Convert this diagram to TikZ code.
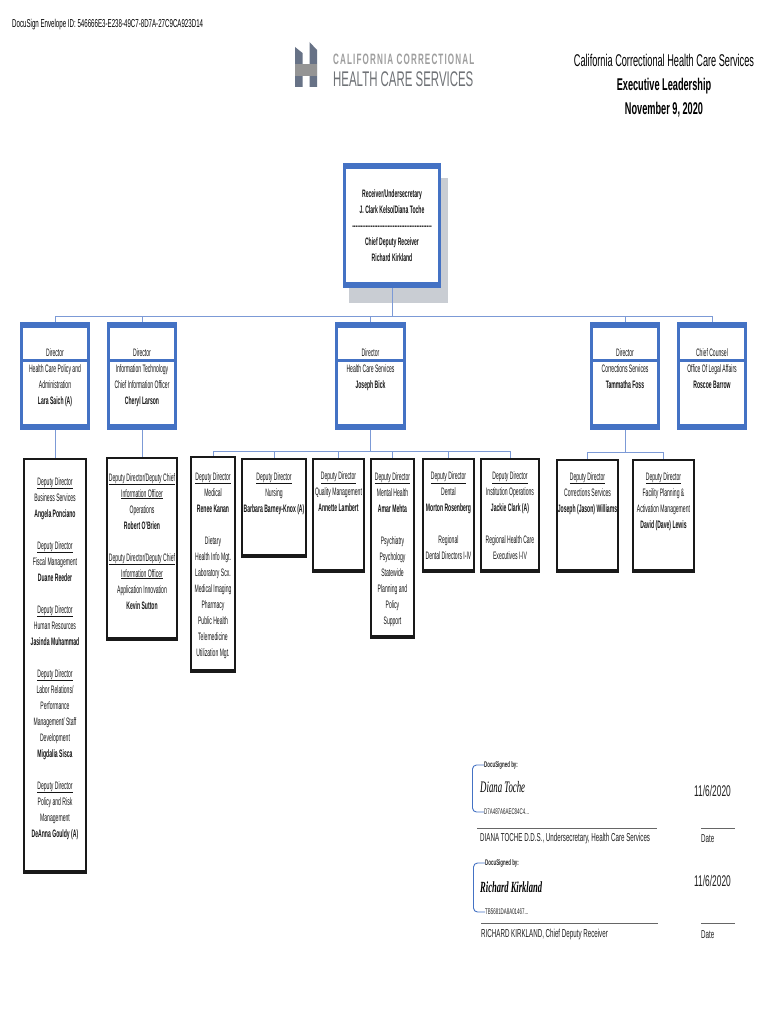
\documentclass[tikz,border=0pt]{standalone}
\usepackage{fontspec}
\usepackage{xcolor}
\setmainfont[FakeStretch=0.47]{Liberation Sans}
\newfontfamily\titlefont[FakeStretch=0.54]{Liberation Sans}
\newfontfamily\signfont[FakeStretch=0.55]{Liberation Serif}
\usetikzlibrary{positioning}
\definecolor{boxblue}{HTML}{4472C4}
\definecolor{linkblue}{HTML}{7C9AD6}
\definecolor{shadowgrey}{HTML}{C9CDD3}
\definecolor{logogrey}{HTML}{6F7276}
\newcommand{\ddr}{\underline{Deputy Director}}
\begin{document}
\begin{tikzpicture}[x=1pt,y=-1pt]
	\tikzset{
		txt/.style={anchor=north,align=center,inner sep=0pt,text=black!92,font=\fontsize{10.8}{16}\selectfont},
		dirbox/.style={draw=boxblue,line width=3pt,fill=white,inner sep=0pt,
			path picture={
				\fill[boxblue] (path picture bounding box.north west) rectangle ([yshift=-4.2pt]path picture bounding box.north east);
				\fill[boxblue] (path picture bounding box.south west) rectangle ([yshift=4.2pt]path picture bounding box.south east);}},
		depbox/.style={draw=black!90,line width=2pt,fill=white,inner sep=0pt,
			path picture={
				\fill[black!90] (path picture bounding box.south west) rectangle ([yshift=3pt]path picture bounding box.south east);}},
		link/.style={draw=linkblue,line width=0.9pt},
		rulerline/.style={draw=black!60,line width=0.7pt},
		bracket/.style={draw=boxblue,line width=0.9pt,rounded corners=4pt},
		small/.style={anchor=west,inner sep=0pt,text=black!85,font=\fontsize{8.2}{9}\titlefont},
		signline/.style={anchor=west,inner sep=0pt,text=black!88,font=\fontsize{11.5}{13}\titlefont},
		stamp/.style={anchor=west,inner sep=0pt,text=black!88,font=\fontsize{15.5}{17}\titlefont},
		signed/.style={anchor=west,inner sep=0pt,font=\fontsize{16}{18}\signfont\itshape}
	}
	\useasboundingbox (0,0) rectangle (770,1024);
	\fill[white] (0,0) rectangle (770,1024);

	% header
	\node[anchor=west,inner sep=0pt,font=\fontsize{11.4}{13}\titlefont] (envelope) at (12,25) {DocuSign Envelope ID: 546666E3-E238-49C7-8D7A-27C9CA923D14};

	% logo
	\fill[logogrey!80!boxblue] (295,47) -- (302.5,53) -- (302.5,87) -- (295,87) -- cycle;
	\fill[logogrey!80!boxblue] (309.5,42) -- (317,50) -- (317,87) -- (309.5,87) -- cycle;
	\fill[black!42] (295,64) rectangle (317,76);
	\node[anchor=west,inner sep=0pt,text=black!38,font=\fontsize{15}{17}\titlefont\bfseries] (logotop) at (333,59.5) {\addfontfeature{LetterSpace=7.5}CALIFORNIA CORRECTIONAL};
	\node[anchor=west,inner sep=0pt,text=logogrey,font=\fontsize{21.2}{24}\titlefont] (logobot) at (333,79) {HEALTH CARE SERVICES};

	% title
	\node[anchor=center,align=center,inner sep=0pt,font=\fontsize{17}{24}\titlefont] (title) at (664,86) {California Correctional Health Care Services\\\bfseries Executive Leadership\\\bfseries November 9, 2020};

	% receiver box
	\fill[shadowgrey] (349,178) rectangle (448,303);
	\node[dirbox,minimum width=95pt,minimum height=122pt] (receiver) at (392,225.5) {};
	\node[txt,font=\fontsize{10.8}{16}\selectfont\bfseries] (receivertxt) at (392,189) {Receiver/Undersecretary\\J. Clark Kelso/Diana Toche\\\foreach \i in {1,...,47}{-}\\Chief Deputy Receiver\\Richard Kirkland};

	% directors
	\node[dirbox,minimum width=67pt,minimum height=105pt] (dirPolicy) at (55,376) {};
	\node[dirbox,minimum width=67pt,minimum height=105pt] (dirTech) at (142,376) {};
	\node[dirbox,minimum width=68pt,minimum height=105pt] (dirHealth) at (370.5,376) {};
	\node[dirbox,minimum width=67pt,minimum height=105pt] (dirCorr) at (625,376) {};
	\node[dirbox,minimum width=67pt,minimum height=105pt] (dirLegal) at (712,376) {};
	\foreach \d in {dirPolicy,dirTech,dirHealth,dirCorr,dirLegal}
		\fill[boxblue] ([yshift=-36.5pt]\d.north west) rectangle ([yshift=-39.5pt]\d.north east);
	\node[txt] (dirPolicytxt) at (55,348.5) {Director\\Health Care Policy and\\Administration\\\bfseries Lara Saich (A)};
	\node[txt] (dirTechtxt) at (142,348.5) {Director\\Information Technology\\Chief Information Officer\\\bfseries Cheryl Larson};
	\node[txt] (dirHealthtxt) at (370.5,348.5) {Director\\Health Care Services\\\bfseries Joseph Bick};
	\node[txt] (dirCorrtxt) at (625,348.5) {Director\\Corrections Services\\\bfseries Tammatha Foss};
	\node[txt] (dirLegaltxt) at (712,348.5) {Chief Counsel\\Office Of Legal Affairs\\\bfseries Roscoe Barrow};

	% deputies
	\node[depbox,minimum width=62pt,minimum height=414pt] (depAdmin) at (55,666) {};
	\node[depbox,minimum width=70pt,minimum height=182pt] (depTech) at (142,549) {};
	\node[depbox,minimum width=44pt,minimum height=215pt] (depMedical) at (213,564.5) {};
	\node[depbox,minimum width=64pt,minimum height=98pt] (depNursing) at (274,508) {};
	\node[depbox,minimum width=51pt,minimum height=113pt] (depQuality) at (338.5,515.5) {};
	\node[depbox,minimum width=43pt,minimum height=179pt] (depMental) at (392.5,548.5) {};
	\node[depbox,minimum width=51pt,minimum height=113pt] (depDental) at (448.5,515.5) {};
	\node[depbox,minimum width=58pt,minimum height=113pt] (depInst) at (510,515.5) {};
	\node[depbox,minimum width=61pt,minimum height=112pt] (depCorr) at (587.5,516) {};
	\node[depbox,minimum width=61pt,minimum height=112pt] (depFacility) at (663.5,516) {};

	\node[txt] (depAdmintxt) at (55,477) {\ddr\\Business Services\\\textbf{Angela Ponciano}\\[16pt]\ddr\\Fiscal Management\\\textbf{Duane Reeder}\\[16pt]\ddr\\Human Resources\\\textbf{Jasinda Muhammad}\\[16pt]\ddr\\Labor Relations/\\Performance\\Management/ Staff\\Development\\\textbf{Migdalia Sisca}\\[16pt]\ddr\\Policy and Risk\\Management\\\textbf{DeAnna Gouldy (A)}};
	\node[txt] (depTechtxt) at (142,473) {\underline{Deputy Director/Deputy Chief}\\\underline{Information Officer}\\Operations\\\textbf{Robert O'Brien}\\[16pt]\underline{Deputy Director/Deputy Chief}\\\underline{Information Officer}\\Application Innovation\\\textbf{Kevin Sutton}};
	\node[txt] (depMedicaltxt) at (213,472) {\ddr\\Medical\\\textbf{Renee Kanan}\\[16pt]Dietary\\Health Info Mgt.\\Laboratory Scx.\\Medical Imaging\\Pharmacy\\Public Health\\Telemedicine\\Utilization Mgt.};
	\node[txt] (depNursingtxt) at (274,472) {\ddr\\Nursing\\\textbf{Barbara Barney-Knox (A)}};
	\node[txt] (depQualitytxt) at (338.5,471.5) {\ddr\\Quality Management\\\textbf{Annette Lambert}};
	\node[txt] (depMentaltxt) at (392.5,472) {\ddr\\Mental Health\\\textbf{Amar Mehta}\\[16pt]Psychiatry\\Psychology\\Statewide\\Planning and\\Policy\\Support};
	\node[txt] (depDentaltxt) at (448.5,471.5) {\ddr\\Dental\\\textbf{Morton Rosenberg}\\[16pt]Regional\\Dental Directors I-IV};
	\node[txt] (depInsttxt) at (510,471.5) {\ddr\\Institution Operations\\\textbf{Jackie Clark (A)}\\[16pt]Regional Health Care\\Executives I-IV};
	\node[txt] (depCorrtxt) at (587.5,472) {\ddr\\Corrections Services\\\textbf{Joseph (Jason) Williams}};
	\node[txt] (depFacilitytxt) at (663.5,472) {\ddr\\Facility Planning \&\\Activation Management\\\textbf{David (Dave) Lewis}};

	% connectors
	\coordinate (busTop) at (392,316);
	\coordinate (busHealth) at (370.5,451);
	\coordinate (busCorr) at (625,452);
	\draw[link] (receiver.south) -- (busTop);
	\foreach \d in {dirPolicy,dirTech,dirHealth,dirCorr,dirLegal}
		\draw[link] (busTop) -| (\d.north);
	\draw[link] (dirPolicy.south) -- (depAdmin.north);
	\draw[link] (dirTech.south) -- (depTech.north);
	\draw[link] (dirHealth.south) -- (busHealth);
	\foreach \d in {depMedical,depNursing,depQuality,depMental,depDental,depInst}
		\draw[link] (busHealth) -| (\d.north);
	\draw[link] (dirCorr.south) -- (busCorr);
	\foreach \d in {depCorr,depFacility}
		\draw[link] (busCorr) -| (\d.north);

	% first signature
	\node[small] (signedA) at (484,765) {\bfseries DocuSigned by:};
	\node[small] (idA) at (484,812) {D7A487A6AEC84C4...};
	\draw[bracket] (signedA.west) -| (472.5,812) -- (idA.west);
	\node[signed] (nameA) at (480,787) {Diana Toche};
	\node[stamp] (dateA) at (694,791) {11/6/2020};
	\coordinate (ruleA) at (477,828);
	\coordinate (ruleAend) at (657,828);
	\coordinate (dateruleA) at (701,828);
	\coordinate (dateruleAend) at (735,828);
	\draw[rulerline] (ruleA) -- (ruleAend);
	\draw[rulerline] (dateruleA) -- (dateruleAend);
	\node[signline] (labelA) at (480,838.5) {DIANA TOCHE D.D.S., Undersecretary, Health Care Services};
	\node[signline] (dateLabelA) at (701,838.5) {Date};

	% second signature
	\node[small] (signedB) at (485,863) {\bfseries DocuSigned by:};
	\node[small] (idB) at (485,912) {TB5681DA8A01467...};
	\draw[bracket] (signedB.west) -| (473.5,912) -- (idB.west);
	\node[signed,font=\fontsize{15.5}{18}\signfont\itshape\bfseries] (nameB) at (480,887) {Richard Kirkland};
	\node[stamp] (dateB) at (694,881) {11/6/2020};
	\coordinate (ruleB) at (481,923);
	\coordinate (ruleBend) at (658,923);
	\coordinate (dateruleB) at (701,923);
	\coordinate (dateruleBend) at (735,923);
	\draw[rulerline] (ruleB) -- (ruleBend);
	\draw[rulerline] (dateruleB) -- (dateruleBend);
	\node[signline] (labelB) at (481,934.5) {RICHARD KIRKLAND, Chief Deputy Receiver};
	\node[signline] (dateLabelB) at (701,934.5) {Date};
\end{tikzpicture}
\end{document}
